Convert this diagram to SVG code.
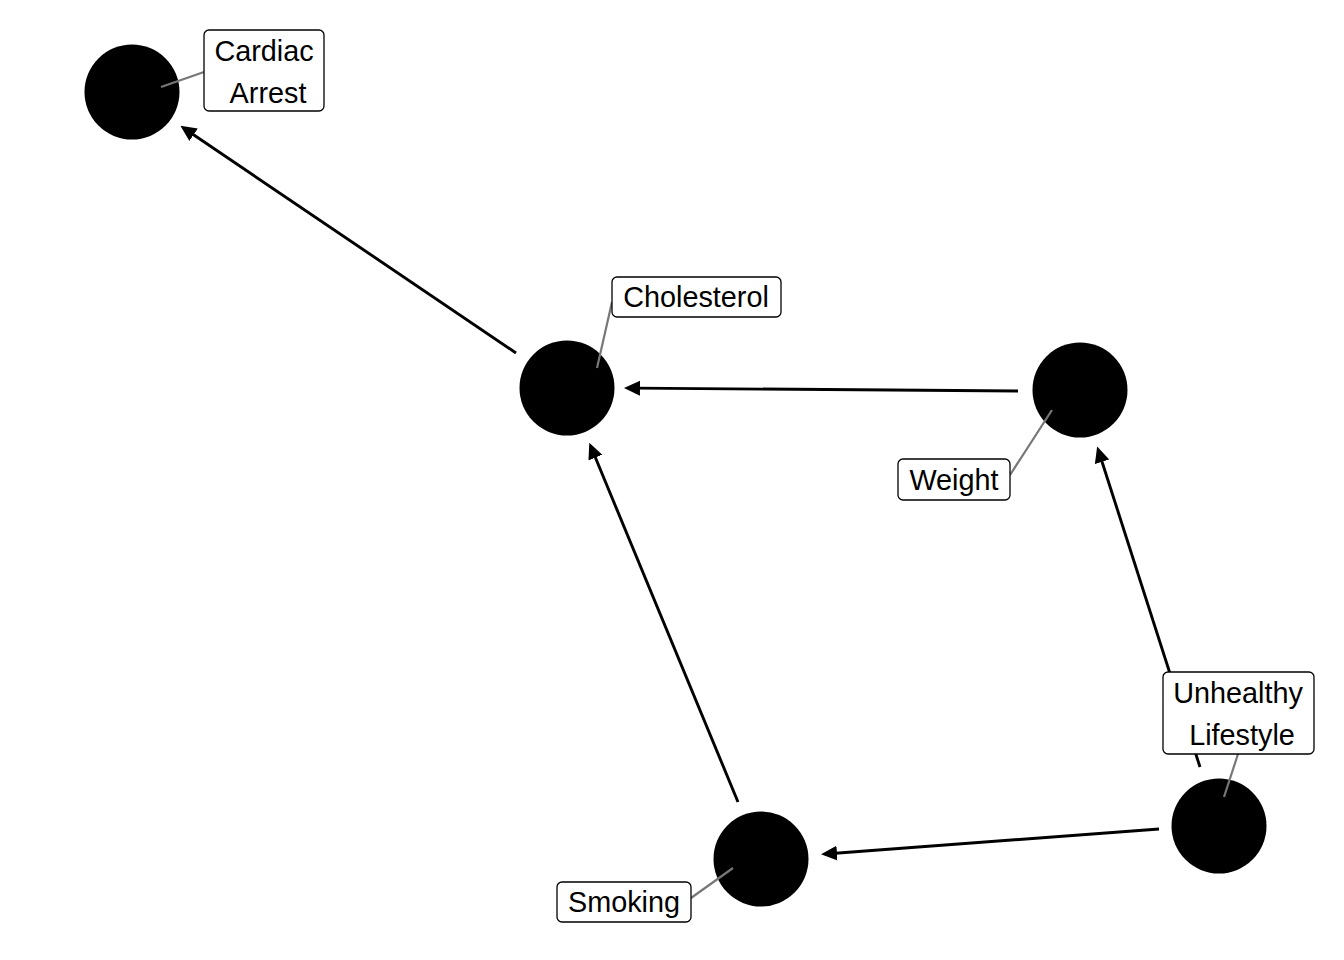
<svg xmlns="http://www.w3.org/2000/svg" width="1344" height="960" viewBox="0 0 1344 960">
  <style>
    .edge { stroke: #000; stroke-width: 2.9; fill: none; marker-end: url(#head); }
    .dot { fill: #000; }
    .leader { stroke: #777; stroke-width: 2.2; fill: none; }
    .box { fill: #fff; stroke: #000; stroke-width: 1.3; }
    .lbl { font-family: "Liberation Sans", Arial, sans-serif; font-size: 28.8px; fill: #000; text-anchor: middle; }
  </style>
  <defs>
    <marker id="head" viewBox="0 0 16 16" markerWidth="16" markerHeight="16" refX="5" refY="8" orient="auto" markerUnits="userSpaceOnUse">
      <path d="M0,0.5 L16,8 L0,15.5 Z" fill="#000"/>
    </marker>
  </defs>
  <rect width="1344" height="960" fill="#fff"/>

  <!-- directed edges -->
  <g id="edges">
    <line class="edge" x1="516" y1="353" x2="189.5" y2="132"/>
    <line class="edge" x1="1018" y1="391" x2="635" y2="388.1"/>
    <line class="edge" x1="738" y1="802" x2="593.5" y2="453"/>
    <line class="edge" x1="1200" y1="767" x2="1100.5" y2="457"/>
    <line class="edge" x1="1159" y1="829" x2="832" y2="853.5"/>
  </g>

  <g id="node-cardiac-arrest">
    <circle class="dot" cx="132" cy="92" r="47.5"/>
    <line class="leader" x1="161" y1="87" x2="204" y2="72"/>
    <rect class="box" x="204" y="30" width="120" height="81" rx="5"/>
    <text class="lbl"><tspan x="264" y="61">Cardiac</tspan><tspan x="268" y="103">Arrest</tspan></text>
  </g>

  <g id="node-cholesterol">
    <circle class="dot" cx="567" cy="388" r="47.5"/>
    <line class="leader" x1="597" y1="368" x2="612" y2="302"/>
    <rect class="box" x="612" y="277" width="169" height="40" rx="5"/>
    <text class="lbl" x="696" y="307">Cholesterol</text>
  </g>

  <g id="node-weight">
    <circle class="dot" cx="1080" cy="390" r="47.5"/>
    <line class="leader" x1="1052" y1="410" x2="1010" y2="475"/>
    <rect class="box" x="898" y="459" width="112" height="41" rx="5"/>
    <text class="lbl" x="954" y="489.5">Weight</text>
  </g>

  <g id="node-unhealthy-lifestyle">
    <circle class="dot" cx="1219" cy="826" r="47.5"/>
    <line class="leader" x1="1224" y1="797" x2="1238" y2="754"/>
    <rect class="box" x="1163" y="672" width="151" height="82" rx="5"/>
    <text class="lbl"><tspan x="1238" y="703">Unhealthy</tspan><tspan x="1242" y="745">Lifestyle</tspan></text>
  </g>

  <g id="node-smoking">
    <circle class="dot" cx="761" cy="859" r="47.5"/>
    <line class="leader" x1="733" y1="868" x2="691" y2="898"/>
    <rect class="box" x="557" y="882" width="134" height="40" rx="5"/>
    <text class="lbl" x="624" y="912">Smoking</text>
  </g>
</svg>
